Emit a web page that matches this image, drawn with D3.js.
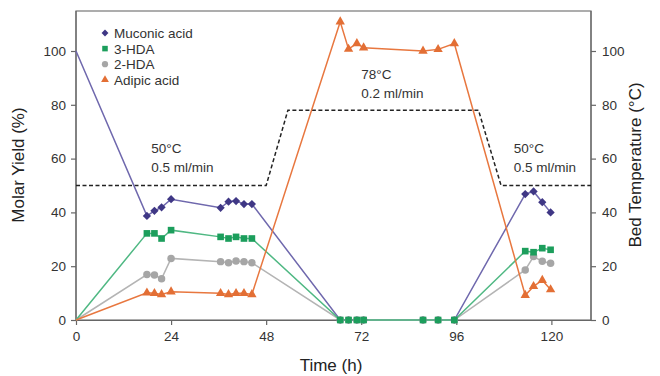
<!DOCTYPE html>
<html><head><meta charset="utf-8">
<script src="https://cdn.jsdelivr.net/npm/d3@7"></script>
<style>
body{margin:0;background:#fff;}
text{font-family:"Liberation Sans",Arial,sans-serif;}
</style></head>
<body><svg id="c" width="660" height="376"></svg>
<script>
const times = [0, 17.9, 19.8, 21.6, 24, 36.5, 38.5, 40.4, 42.4, 44.4, 66.7, 68.8, 70.9, 72.6, 87.6, 91.4, 95.5, 113.4, 115.5, 117.7, 119.8];
const muconic = [100, 38.7, 40.6, 41.9, 44.9, 41.7, 44, 44.2, 43.1, 43.1, 0, 0, 0, 0, 0, 0, 0, 46.8, 47.8, 43.8, 40];
const hda3 = [0, 32.2, 32.2, 30.3, 33.4, 30.9, 30.3, 30.9, 30.3, 30.3, 0, 0, 0, 0, 0, 0, 0, 25.6, 25.2, 26.7, 26.1];
const hda2 = [0, 16.9, 16.7, 15.3, 22.9, 21.7, 21.3, 21.9, 21.7, 21.3, 0, 0, 0, 0, 0, 0, 0, 18.6, 23.6, 21.8, 21.1];
const adipic = [0, 10.1, 9.9, 9.5, 10.5, 9.9, 9.5, 9.9, 9.9, 9.5, 110.9, 100.7, 102.8, 101.2, 100, 100.6, 102.8, 9.2, 12.5, 14.8, 11.3];
const tempTime = [0, 48, 53.5, 101.6, 107.3, 130];
const tempVal = [50, 50, 78, 78, 50, 50];
const xTicks = [0, 24, 48, 72, 96, 120];
const yTicks = [0, 20, 40, 60, 80, 100];
const seriesNames = ["Muconic acid", "3-HDA", "2-HDA", "Adipic acid"];
const annotations = [
  {t: 19, v: 62, lines: ["50°C", "0.5 ml/min"]},
  {t: 72, v: 89.5, lines: ["78°C", "0.2 ml/min"]},
  {t: 110.5, v: 62, lines: ["50°C", "0.5 ml/min"]}
];

const svg = d3.select("#c");
const L = 76, R = 591, T = 11, B = 320;
const x = d3.scaleLinear().domain([0, 130]).range([L, R]);
const y = d3.scaleLinear().domain([0, 100]).range([B, 51]);
const y2 = y.copy();
const axisCol = "#666", txtCol = "#333";

svg.append("rect").attr("x", L).attr("y", T).attr("width", R - L).attr("height", B - T)
  .attr("fill", "none").attr("stroke", "#777").attr("stroke-width", 1.2);

function styleAxis(g){
  g.select(".domain").attr("stroke", axisCol).attr("stroke-width", 1.2);
  g.selectAll(".tick line").attr("stroke", axisCol).attr("stroke-width", 1.2);
  g.selectAll(".tick text").attr("fill", txtCol).style("font-size", "13.5px")
   .style("font-family", "'Liberation Sans',Arial,sans-serif");
}
svg.append("g").attr("transform", `translate(0,${B})`)
  .call(d3.axisBottom(x).tickValues(xTicks).tickSize(5).tickPadding(6).tickSizeOuter(0)).call(styleAxis);
svg.append("g").attr("transform", `translate(${L},0)`)
  .call(d3.axisLeft(y).tickValues(yTicks).tickSize(5).tickPadding(5).tickSizeOuter(0)).call(styleAxis)
  .select(".domain").attr("d", `M0,${B}V${T}`);
svg.append("g").attr("transform", `translate(${R},0)`)
  .call(d3.axisRight(y2).tickValues(yTicks).tickSize(5).tickPadding(6).tickSizeOuter(0)).call(styleAxis)
  .select(".domain").attr("d", `M0,${B}V${T}`);

svg.append("text").attr("x", 331).attr("y", 371).attr("text-anchor", "middle")
  .style("font-size", "17px").attr("fill", "#222").text("Time (h)");
svg.append("text").attr("transform", "translate(24,165) rotate(-90)").attr("text-anchor", "middle")
  .style("font-size", "17px").attr("fill", "#222").text("Molar Yield (%)");
svg.append("text").attr("transform", "translate(641,165) rotate(-90)").attr("text-anchor", "middle")
  .style("font-size", "17px").attr("fill", "#222").text("Bed Temperature (°C)");

const tempData = tempTime.map((t, i) => [t, tempVal[i]]);
svg.append("path").datum(tempData)
  .attr("d", d3.line().x(d => x(d[0])).y(d => y2(d[1])))
  .attr("fill", "none").attr("stroke", "#222").attr("stroke-width", 1.5).attr("stroke-dasharray", "4,2.5");

annotations.forEach(a => {
  a.lines.forEach((ln, i) => {
    svg.append("text").attr("x", x(a.t)).attr("y", y(a.v) + i * 19)
      .style("font-size", "13.5px").attr("fill", "#333").text(ln);
  });
});

const series = [
  {name: "Muconic acid", vals: muconic, line: "#6f68ad", fill: "#3f3785", sym: d3.symbolSquare, size: 34, rot: 45},
  {name: "2-HDA", vals: hda2, line: "#b4b4b4", fill: "#a6a6a6", sym: d3.symbolCircle, size: 44, rot: 0},
  {name: "3-HDA", vals: hda3, line: "#4fb883", fill: "#1c9e5c", sym: d3.symbolSquare, size: 44, rot: 0},
  {name: "Adipic acid", vals: adipic, line: "#e8773f", fill: "#e36f35", sym: d3.symbolTriangle, size: 38, rot: 0}
];
const line = d3.line().x(d => x(d[0])).y(d => y(d[1]));
series.forEach(s => {
  const pts = times.map((t, i) => [t, s.vals[i]]);
  svg.append("path").datum(pts).attr("d", line).attr("fill", "none")
    .attr("stroke", s.line).attr("stroke-width", 1.5);
});
series.forEach(s => {
  const pts = times.map((t, i) => [t, s.vals[i]]).slice(1);
  svg.append("g").selectAll("path").data(pts).join("path")
    .attr("transform", d => `translate(${x(d[0])},${y(d[1])}) rotate(${s.rot})`)
    .attr("d", d3.symbol().type(s.sym).size(s.size)).attr("fill", s.fill);
});

const legOrder = seriesNames.map(n => series.find(s => s.name === n));
legOrder.forEach((s, i) => {
  const cy = 33 + i * 15.6;
  svg.append("path").attr("transform", `translate(105,${cy}) rotate(${s.rot})`)
    .attr("d", d3.symbol().type(s.sym).size(s.size * 0.7)).attr("fill", s.fill);
  svg.append("text").attr("x", 114).attr("y", cy + 5).style("font-size", "13.5px")
    .attr("fill", "#333").text(s.name);
});
</script></body></html>
